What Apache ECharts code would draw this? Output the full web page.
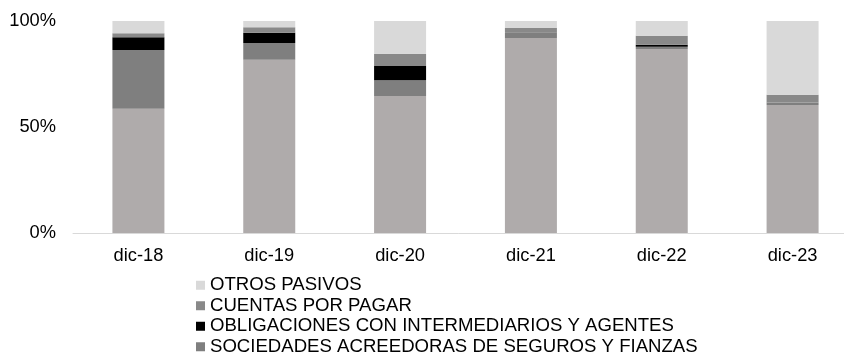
<!DOCTYPE html>
<html>
<head>
<meta charset="utf-8">
<script src="https://cdn.jsdelivr.net/npm/echarts@6/dist/echarts.min.js"></script>
<style>
html,body{margin:0;padding:0;background:#fff;}
#chart{width:844px;height:352px;}
</style>
</head>
<body>
<div id="chart"></div>
<script>
var categories = ['dic-18', 'dic-19', 'dic-20', 'dic-21', 'dic-22', 'dic-23'];
var reservas = [58.6, 81.7, 64.6, 92.0, 86.8, 60.4];
var sociedades = [27.7, 7.9, 7.4, 2.3, 1.1, 1.1];
var obligaciones = [6.0, 4.9, 6.8, 0.1, 0.9, 0.0];
var cuentas = [1.9, 2.5, 5.8, 2.3, 4.3, 3.7];
var otros = [5.8, 3.0, 15.4, 3.3, 6.9, 34.8];
var yTicks = [0, 50, 100];

var names = {
  reservas: 'RESERVAS TÉCNICAS',
  sociedades: 'SOCIEDADES ACREEDORAS DE SEGUROS Y FIANZAS',
  obligaciones: 'OBLIGACIONES CON INTERMEDIARIOS Y AGENTES',
  cuentas: 'CUENTAS POR PAGAR',
  otros: 'OTROS PASIVOS'
};

var font = 'Liberation Sans, Arial, sans-serif';
function bar(name, data, color) {
  return {
    name: name, type: 'bar', stack: 'total', data: data,
    barWidth: 52, itemStyle: { color: color }, emphasis: { disabled: true }
  };
}

var chart = echarts.init(document.getElementById('chart'), null, { renderer: 'canvas' });
chart.setOption({
  animation: false,
  grid: { left: 73, top: 21, width: 785, height: 212, outerBoundsMode: 'none', containLabel: false },
  legend: {
    orient: 'vertical', left: 196, top: 275, height: 120, padding: 0,
    itemWidth: 9, itemHeight: 9, itemGap: 0,
    icon: 'rect',
    textStyle: { fontFamily: font, fontSize: 18.6, color: '#000', lineHeight: 20.5 },
    data: [names.otros, names.cuentas, names.obligaciones, names.sociedades],
    selectedMode: false
  },
  xAxis: {
    type: 'category', data: categories,
    axisLine: { lineStyle: { color: '#D9D9D9', width: 1 } },
    axisTick: { show: false },
    axisLabel: { fontFamily: font, fontSize: 18.3, color: '#000', margin: 14 }
  },
  yAxis: {
    type: 'value', min: yTicks[0], max: yTicks[yTicks.length - 1], interval: yTicks[1] - yTicks[0],
    axisLine: { show: false }, axisTick: { show: false },
    splitLine: { show: false },
    axisLabel: { fontFamily: font, fontSize: 18.3, color: '#000', margin: 17, formatter: '{value}%' }
  },
  series: [
    bar(names.reservas, reservas, '#AFABAB'),
    bar(names.sociedades, sociedades, '#7F7F7F'),
    bar(names.obligaciones, obligaciones, '#000000'),
    bar(names.cuentas, cuentas, '#898989'),
    bar(names.otros, otros, '#D9D9D9')
  ]
});
</script>
</body>
</html>
